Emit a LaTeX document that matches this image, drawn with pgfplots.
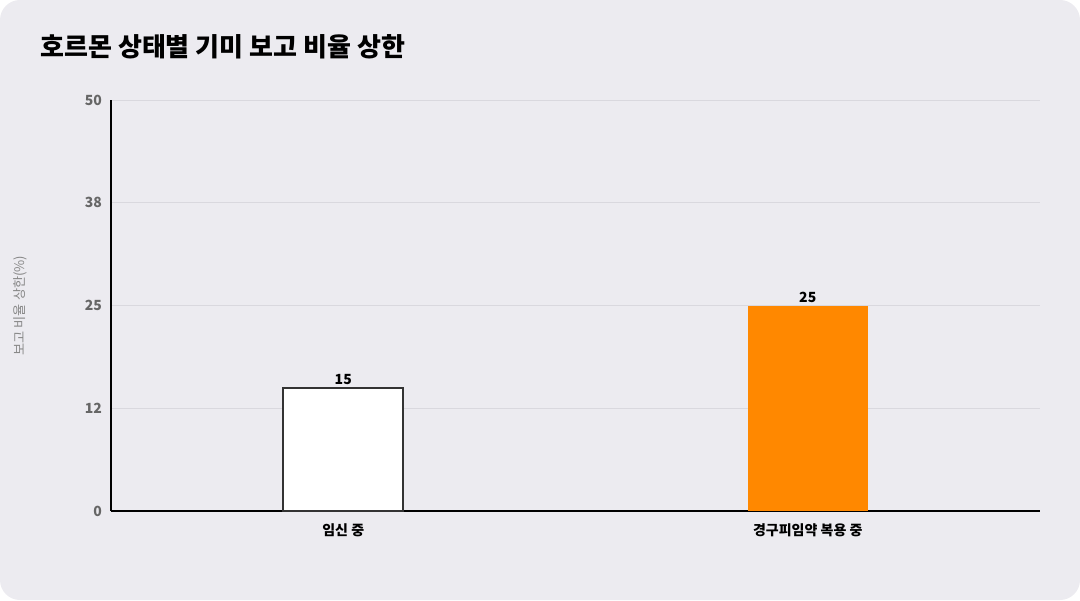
\documentclass[border=0pt]{standalone}
\usepackage{pgfplots}
\pgfplotsset{compat=1.18}
\usepackage{fontspec}
\setmainfont{Noto Sans CJK KR}
\definecolor{bgc}{HTML}{ECEBF0}
\definecolor{tickc}{HTML}{666666}
\definecolor{labc}{HTML}{888888}
\definecolor{gridc}{HTML}{D9D8DE}
\definecolor{orangec}{HTML}{FF8800}
\definecolor{edgec}{HTML}{333333}
\begin{document}
\begin{tikzpicture}
\path[use as bounding box] (0,0) rectangle (540pt,300pt);
\fill[bgc, rounded corners=10pt] (0,0) rectangle (540pt,300pt);
\node[anchor=west, inner sep=0pt] at (20pt,276.5pt) {\fontsize{13}{15}\selectfont\bfseries 호르몬 상태별 기미 보고 비율 상한};
\node[rotate=90, inner sep=0pt, text=labc] at (10pt,147.25pt) {\fontsize{6.6}{7.5}\selectfont 보고 비율 상한(\%)};
\begin{axis}[
  at={(55.5pt,44.5pt)}, anchor=south west,
  width=464.5pt, height=205.5pt, scale only axis,
  xmin=-0.5, xmax=1.5, ymin=0, ymax=50,
  ytick={0,12.5,25,37.5,50}, yticklabels={0,12,25,38,50},
  xtick={0,1}, xticklabels={임신 중, 경구피임약 복용 중},
  axis lines=left, axis line style={-, black, line width=1pt},
  major tick length=0pt,
  ymajorgrids, grid style={gridc, line width=0.4pt},
  /pgf/number format/assume math mode=true,
  yticklabel style={font=\fontsize{7}{8}\selectfont\bfseries, text=tickc, xshift=-1pt},
  xticklabel style={font=\fontsize{7}{8}\selectfont\bfseries, text=black, yshift=-3pt},
  ybar, bar width=60pt,
  nodes near coords,
  every node near coord/.append style={font=\fontsize{7}{8}\selectfont\bfseries, text=black, inner sep=1pt},
  clip=false,
]
\addplot[ybar, bar shift=0pt, fill=white, draw=edgec, line width=1pt] coordinates {(0,15)};
\addplot[ybar, bar shift=0pt, fill=orangec, draw=none] coordinates {(1,25)};
\end{axis}
\end{tikzpicture}
\end{document}
